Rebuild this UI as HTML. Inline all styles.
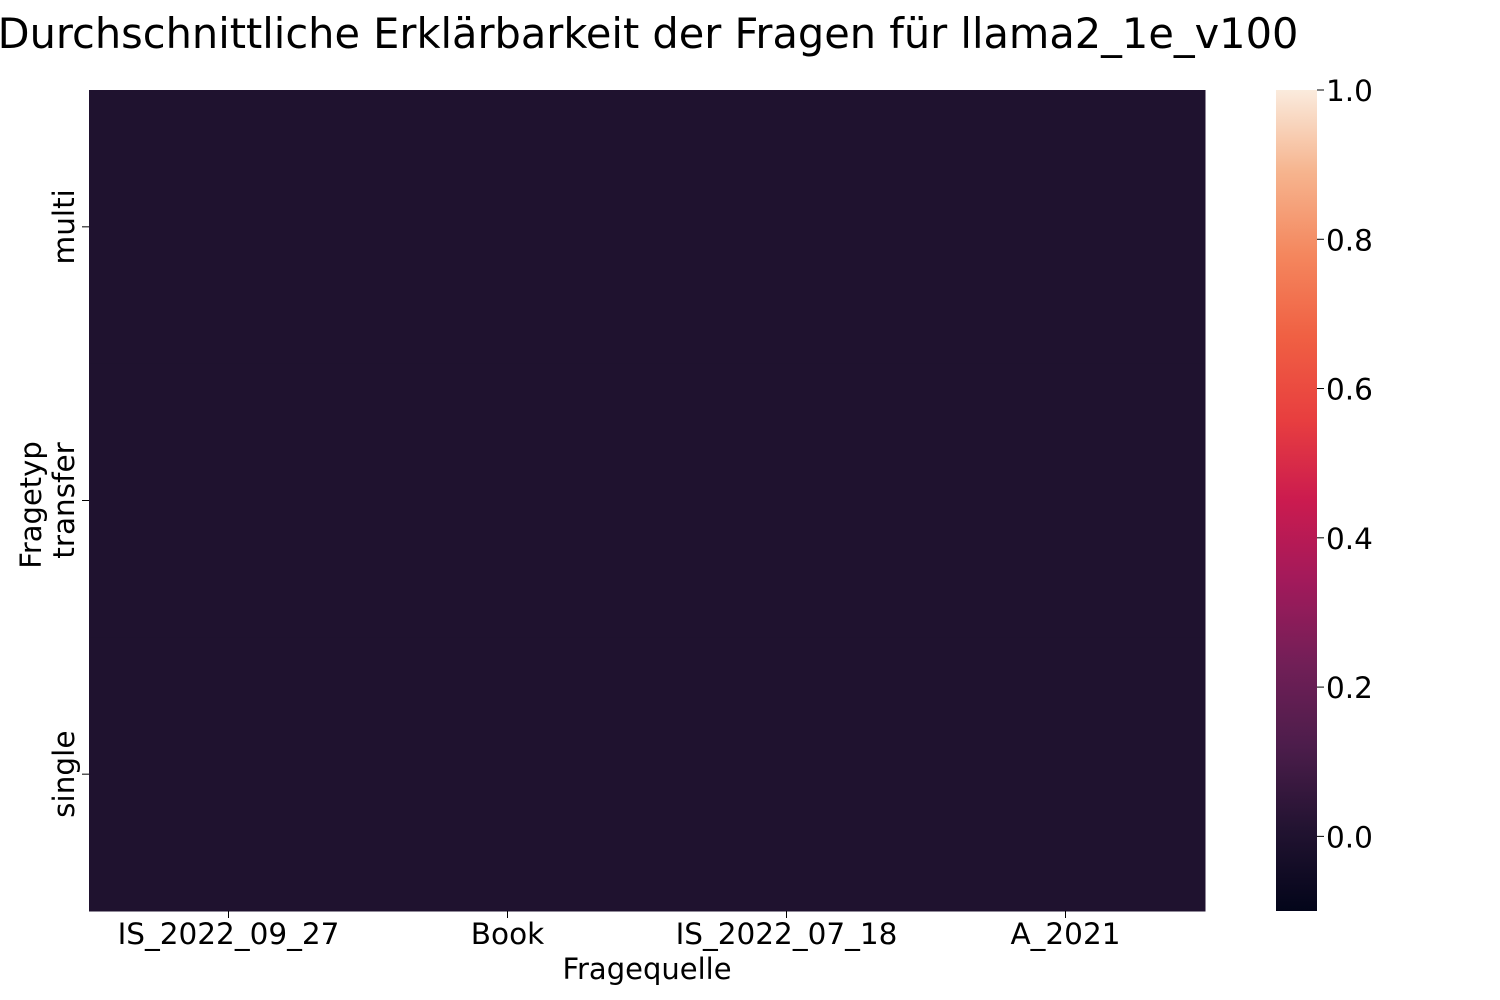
<!DOCTYPE html>
<html><head><meta charset="utf-8"><style>body{margin:0;background:#fff}svg{display:block;font-family:"DejaVu Sans","Liberation Sans",sans-serif}</style></head>
<body>
<svg id="chart" width="1500" height="1000">
<defs><linearGradient id="rocket" x1="0" y1="1" x2="0" y2="0">
<stop offset="0" stop-color="#03051A"/><stop offset="0.1" stop-color="#221331"/><stop offset="0.2" stop-color="#4C1D4B"/><stop offset="0.3" stop-color="#711F57"/><stop offset="0.4" stop-color="#A11A5B"/><stop offset="0.5" stop-color="#CB1B4F"/><stop offset="0.6" stop-color="#E83F3F"/><stop offset="0.7" stop-color="#F06043"/><stop offset="0.8" stop-color="#F4875E"/><stop offset="0.9" stop-color="#F6B48E"/><stop offset="1" stop-color="#FAEBDD"/></linearGradient></defs>
<text x="648" y="48" font-size="41.5" text-anchor="middle">Durchschnittliche Erklärbarkeit der Fragen für llama2_1e_v100</text>
<g id="cells"></g><g id="xt"></g><g id="yt"></g>
<text x="647" y="979" font-size="29" text-anchor="middle">Fragequelle</text>
<text transform="translate(41,505) rotate(-90)" font-size="29" text-anchor="middle">Fragetyp</text>
<rect x="1276" y="90" width="41" height="821" fill="url(#rocket)"/>
<g id="ct"></g>
</svg>
<script>
const categories=["IS_2022_09_27","Book","IS_2022_07_18","A_2021"];
const rows=["multi","transfer","single"];
const values=[[0,0,0,0],[0,0,0,0],[0,0,0,0]];
const cbTicks=[0.0,0.2,0.4,0.6,0.8,1.0];
const vmin=-0.1,vmax=1.0;
const NS="http://www.w3.org/2000/svg";
const X0=89,X1=1205,Y0=90,Y1=911;
const cw=(X1-X0)/categories.length,rh=(Y1-Y0)/rows.length;
const stops=[[0,[3,5,26]],[0.1,[34,19,49]],[0.2,[76,29,75]],[0.3,[113,31,87]],[0.4,[161,26,91]],[0.5,[203,27,79]],[0.6,[232,63,63]],[0.7,[240,96,67]],[0.8,[244,135,94]],[0.9,[246,180,142]],[1,[250,235,221]]];
function color(v){let t=Math.max(0,Math.min(1,(v-vmin)/(vmax-vmin)));for(let i=1;i<stops.length;i++){if(t<=stops[i][0]){const a=stops[i-1],b=stops[i],f=(t-a[0])/(b[0]-a[0]);return`rgb(${a[1].map((c,k)=>Math.round(c+(b[1][k]-c)*f)).join(',')})`;}}return 'rgb(250,235,221)';}
function mk(tag,at,p){const e=document.createElementNS(NS,tag);for(const k in at)e.setAttribute(k,at[k]);p.appendChild(e);return e;}
const cells=document.getElementById('cells');
values.forEach((r,i)=>r.forEach((v,j)=>{const e=mk('rect',{x:X0+j*cw,y:Y0+i*rh,width:cw+0.5,height:rh+0.5,fill:color(v)},cells);

}));
const xt=document.getElementById('xt');
categories.forEach((c,j)=>{const x=X0+(j+0.5)*cw;mk('line',{x1:x,x2:x,y1:Y1,y2:Y1+7,stroke:'#000'},xt);const t=mk('text',{x:x,y:944,'font-size':29.5,'text-anchor':'middle'},xt);t.textContent=c;

});
const yt=document.getElementById('yt');
rows.forEach((r,i)=>{const y=Y0+(i+0.5)*rh;mk('line',{x1:X0-7,x2:X0,y1:y,y2:y,stroke:'#000'},yt);const t=mk('text',{transform:`translate(74,${y}) rotate(-90)`,'font-size':29.5,'text-anchor':'middle'},yt);t.textContent=r;

});
const ct=document.getElementById('ct');
cbTicks.forEach(v=>{const y=Y1-(v-vmin)/(vmax-vmin)*(Y1-Y0);mk('line',{x1:1317,x2:1324,y1:y,y2:y,stroke:'#000'},ct);const t=mk('text',{x:1326,y:y+11,'font-size':29.5},ct);t.textContent=v.toFixed(1);

});
</script>
</body></html>
